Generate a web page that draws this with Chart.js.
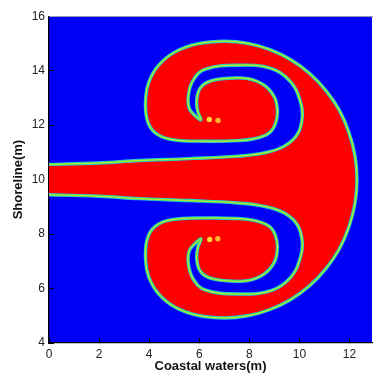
<!DOCTYPE html>
<html>
<head>
<meta charset="utf-8">
<script src="https://cdn.jsdelivr.net/npm/chart.js@4.4.1/dist/chart.umd.min.js"></script>
<style>
html,body{margin:0;padding:0;background:#fff;}
#wrap{width:376px;height:378px;}
</style>
</head>
<body>
<div id="wrap"><canvas id="c" width="376" height="378"></canvas></div>
<script>
// Axis ticks
const xTicks = [0, 2, 4, 6, 8, 10, 12];
const yTicks = [4, 6, 8, 10, 12, 14, 16];

// Boundary of the red region, upper half (stem top -> spiral channel -> envelope top -> right side)
const upperX = [-0.3, 2.0, 3.59, 5.57, 7.54, 8.59, 9.38, 9.91, 10.11, 10.04, 9.65, 8.86, 7.54, 6.23, 5.76, 5.57, 5.60, 5.83, 6.07, 5.94, 5.90, 6.03, 6.36, 7.01, 7.94, 8.59, 8.99, 9.12, 9.05, 8.79, 8.20, 7.54, 6.23, 4.91, 4.25, 3.92, 3.86, 3.99, 4.38, 5.04, 5.96, 7.01, 7.94, 8.83, 9.66, 10.42, 11.07, 11.60, 11.98, 12.22, 12.30];
const upperY = [10.55, 10.61, 10.70, 10.77, 10.86, 10.98, 11.22, 11.65, 12.26, 12.86, 13.59, 14.08, 14.20, 14.05, 13.65, 13.11, 12.62, 12.35, 12.20, 12.50, 12.93, 13.35, 13.59, 13.71, 13.71, 13.47, 13.05, 12.56, 12.07, 11.71, 11.50, 11.43, 11.41, 11.47, 11.71, 12.19, 12.99, 13.59, 14.20, 14.69, 14.99, 15.08, 15.00, 14.77, 14.40, 13.89, 13.26, 12.54, 11.73, 10.88, 10.00];

// Boundary of the red region, lower half (right side -> envelope bottom -> spiral channel -> stem bottom)
const lowerX = [12.22, 11.98, 11.60, 11.07, 10.42, 9.66, 8.83, 7.94, 7.01, 5.96, 5.04, 4.38, 3.99, 3.86, 3.92, 4.25, 4.91, 6.23, 7.54, 8.20, 8.79, 9.05, 9.12, 8.99, 8.59, 7.94, 7.01, 6.36, 6.03, 5.90, 5.94, 6.07, 5.83, 5.60, 5.57, 5.76, 6.23, 7.54, 8.86, 9.65, 10.04, 10.11, 9.91, 9.38, 8.59, 7.54, 5.57, 3.59, 2.0, -0.3];
const lowerY = [9.12, 8.27, 7.46, 6.74, 6.11, 5.60, 5.23, 5.00, 4.92, 5.01, 5.31, 5.80, 6.41, 7.01, 7.81, 8.29, 8.53, 8.59, 8.57, 8.50, 8.29, 7.93, 7.44, 6.95, 6.53, 6.29, 6.29, 6.41, 6.65, 7.07, 7.50, 7.82, 7.65, 7.38, 6.89, 6.35, 5.95, 5.80, 5.92, 6.41, 7.14, 7.74, 8.35, 8.78, 9.02, 9.14, 9.23, 9.30, 9.39, 9.45];

// Small yellow blobs at the vortex centres
const dotX = [6.40, 6.75, 6.42, 6.74];
const dotY = [12.21, 12.17, 7.80, 7.83];

const outline = upperX.map((x, i) => ({x, y: upperY[i]}))
  .concat(lowerX.map((x, i) => ({x, y: lowerY[i]})));
const dots = dotX.map((x, i) => ({x, y: dotY[i]}));

const bgPlugin = {
  id: 'bgBlue',
  beforeDraw(chart) {
    const {ctx, chartArea: a} = chart;
    ctx.save();
    ctx.fillStyle = '#0000f6';
    ctx.fillRect(a.left, a.top, a.right - a.left, a.bottom - a.top);
    ctx.restore();
  }
};

const tickFont = {family: '"Liberation Sans", Arial, sans-serif', size: 12};
const titleFont = {family: '"Liberation Sans", Arial, sans-serif', size: 13, weight: 'bold'};
const TENSION = 0.4;

new Chart(document.getElementById('c'), {
  type: 'line',
  data: {
    datasets: [
      {data: dots, showLine: false, pointRadius: 2.7, pointBorderWidth: 0,
       pointBackgroundColor: ['#ffd83c', '#ffb42a', '#ffd83c', '#ffb42a'], order: 0},
      {data: outline, fill: false, borderColor: '#d2ec1e', borderWidth: 0.9,
       pointRadius: 0, tension: TENSION, order: 1},
      {data: outline, fill: false, borderColor: '#48e070', borderWidth: 2.2,
       pointRadius: 0, tension: TENSION, order: 2},
      {data: outline, fill: 'shape', backgroundColor: '#ff0000', borderColor: '#18c4ee',
       borderWidth: 3.4, pointRadius: 0, tension: TENSION, order: 3}
    ]
  },
  options: {
    responsive: false,
    animation: false,
    devicePixelRatio: 1,
    layout: {padding: {left: 7, top: 13, right: 0, bottom: 0}},
    plugins: {legend: {display: false}, tooltip: {enabled: false}},
    scales: {
      x: {
        type: 'linear', min: 0, max: 12.9, z: 1,
        afterBuildTicks: (s) => { s.ticks = xTicks.map(v => ({value: v})); },
        afterFit: (s) => { s.height = 35; },
        border: {display: true, color: '#000', width: 1.3},
        grid: {drawOnChartArea: false, drawTicks: true, tickLength: -5, color: '#000', lineWidth: 1},
        ticks: {padding: 9, color: '#222', font: tickFont, maxRotation: 0},
        title: {display: true, text: 'Coastal waters(m)', color: '#111', font: titleFont, padding: {top: 2, bottom: 4}}
      },
      x2: {
        type: 'linear', position: 'top', min: 0, max: 12.9, z: 1,
        afterFit: (s) => { s.height = 0; },
        border: {display: true, color: '#9a9ab4', width: 1},
        grid: {display: false, drawTicks: false},
        ticks: {display: false}
      },
      y: {
        type: 'linear', min: 4, max: 16, z: 1,
        afterBuildTicks: (s) => { s.ticks = yTicks.map(v => ({value: v})); },
        afterFit: (s) => { s.width = 42; },
        border: {display: true, color: '#000', width: 1.3},
        grid: {drawOnChartArea: false, drawTicks: true, tickLength: -5, color: '#000', lineWidth: 1},
        ticks: {padding: 9, color: '#222', font: tickFont},
        title: {display: true, text: 'Shoreline(m)', color: '#111', font: titleFont, padding: {top: 4, bottom: 2}}
      }
    }
  },
  plugins: [bgPlugin]
});
</script>
</body>
</html>
